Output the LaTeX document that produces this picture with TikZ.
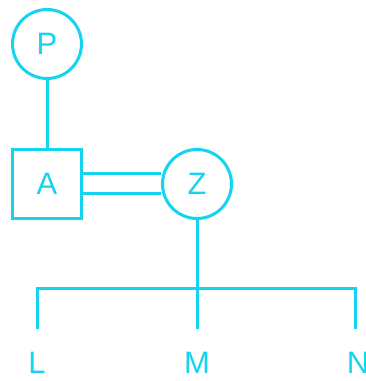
\documentclass[tikz,border=0pt]{standalone}
\usepackage{fontspec}
\setmainfont{Liberation Sans}
\usepackage{xcolor}
\usepackage{tikz}
\usetikzlibrary{positioning}
\definecolor{famcyan}{HTML}{14D4EF}

\begin{document}
\begin{tikzpicture}[
  x=1pt, y=1pt,
  person/.style={circle, draw=famcyan, text=famcyan, line width=3pt, minimum size=69pt, inner sep=0pt, font=\fontsize{31}{36}\selectfont},
  member/.style={rectangle, draw=famcyan, text=famcyan, line width=3pt, minimum size=69pt, inner sep=0pt, font=\fontsize{31}{36}\selectfont},
  kid/.style={text=famcyan, inner sep=0pt, minimum height=68pt, font=\fontsize{31}{36}\selectfont},
  line/.style={draw=famcyan, line width=3pt}
]
\useasboundingbox (0,0) rectangle (366,381);

\node[person] (P) at (47,337) {P};
\node[member] (A) at (47,197) {A};
\node[person] (Z) at (197,197) {Z};
\node[kid] (L) at (37,18) {L};
\node[kid] (M) at (197,18) {M};
\node[kid] (N) at (358,18) {N};
\coordinate (bus) at (197,92);
\coordinate (Nend) at (355,52);

\draw[line] (P) -- (A);
\draw[line] ([yshift=10pt]A.east) -- ([yshift=10pt]Z.west);
\draw[line] ([yshift=-10pt]A.east) -- ([yshift=-10pt]Z.west);
\draw[line] (Z) -- (M);
\draw[line] (L.north) |- (bus) -| (Nend);
\end{tikzpicture}
\end{document}
